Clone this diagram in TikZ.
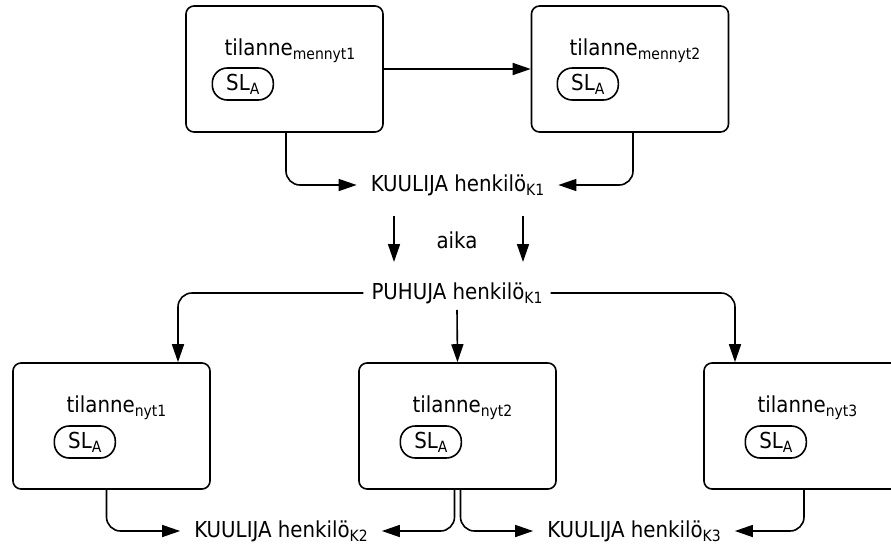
\documentclass[tikz,border=0pt]{standalone}
\usepackage{fontspec}
\setmainfont{DejaVu Sans Condensed}
\usetikzlibrary{arrows.meta,calc}
% lowered, smaller index text
\newcommand\lo[1]{\raisebox{-4pt}{\fontsize{15.5}{15.5}\selectfont #1}}
\begin{document}
\begin{tikzpicture}[x=1pt,y=-1pt,
  every node/.style={font=\fontsize{22}{26}\selectfont, inner sep=0pt},
  box/.style={draw, line width=1.6pt, rounded corners=8pt, minimum width=197pt, minimum height=126pt},
  title/.style={anchor=base},
  pill/.style={draw, line width=1.6pt, rounded corners=15pt, minimum width=61pt, minimum height=32pt, anchor=west},
  conn/.style={line width=1.6pt, rounded corners=14pt, -{Triangle[length=18pt,width=12pt]}},
]
\clip (0,0) rectangle (891,555);
\fill[white] (0,0) rectangle (891,555);

% past situations
\node[box] (b1) at (284.5,69) {};
\node[box] (b2) at (630,69) {};
\node[title] (t1) at (290,55) {tilanne\lo{mennyt1}};
\node[title] (t2) at (635,55) {tilanne\lo{mennyt2}};
\node[pill] (p1) at ($(t1.west |- b1.center)+(-13,15)$) {SL\lo{A}};
\node[pill] (p2) at ($(t2.west |- b2.center)+(-13,15)$) {SL\lo{A}};

% present situations
\node[box] (bL) at (111.5,426) {};
\node[box] (bM) at (457.5,426) {};
\node[box] (bR) at (802.5,426) {};
\node[title] (tL) at (116.5,412) {tilanne\lo{nyt1}};
\node[title] (tM) at (462.5,412) {tilanne\lo{nyt2}};
\node[title] (tR) at (807.5,412) {tilanne\lo{nyt3}};
\node[pill] (pL) at ($(tL.west |- bL.center)+(-13,16)$) {SL\lo{A}};
\node[pill] (pM) at ($(tM.west |- bM.center)+(-13,16)$) {SL\lo{A}};
\node[pill] (pR) at ($(tR.west |- bR.center)+(-13,16)$) {SL\lo{A}};

% persons
\node (k1) at (457.5,185) {KUULIJA henkilö\lo{K1}};
\node (aika) at (457,240) {aika};
\node (pu) at (457,293) {PUHUJA henkilö\lo{K1}};
\node (k2) at (281,531) {KUULIJA henkilö\lo{K2}};
\node (k3) at (634,531) {KUULIJA henkilö\lo{K3}};

\coordinate (a1s) at (394,216);
\coordinate (a1e) at (394,262);
\coordinate (a2s) at (523,216);
\coordinate (a2e) at (523,262);

% connectors
\draw[conn] (b1.east) -- (b2.west);
\draw[conn] ([xshift=1.5pt]b1.south) |- ([xshift=-14pt]k1.west);
\draw[conn] ([xshift=3pt]b2.south) |- ([xshift=14pt]k1.east);
\draw[conn] (a1s) -- (a1e);
\draw[conn] (a2s) -- (a2e);
\draw[conn] ([xshift=-8pt]pu.west) -| ([xshift=66.5pt]bL.north);
\draw[conn] ([yshift=-6pt]pu.south) -- (bM.north);
\draw[conn] ([xshift=8pt]pu.east) -| ([xshift=-67.5pt]bR.north);
\draw[conn] ([xshift=-5pt]bL.south) |- ([xshift=-14pt]k2.west);
\draw[conn] ([xshift=-3pt]bM.south) |- ([xshift=14pt]k2.east);
\draw[conn] ([xshift=3pt]bM.south) |- ([xshift=-14pt]k3.west);
\draw[conn] ([xshift=1.5pt]bR.south) |- ([xshift=14pt]k3.east);
\end{tikzpicture}
\end{document}
